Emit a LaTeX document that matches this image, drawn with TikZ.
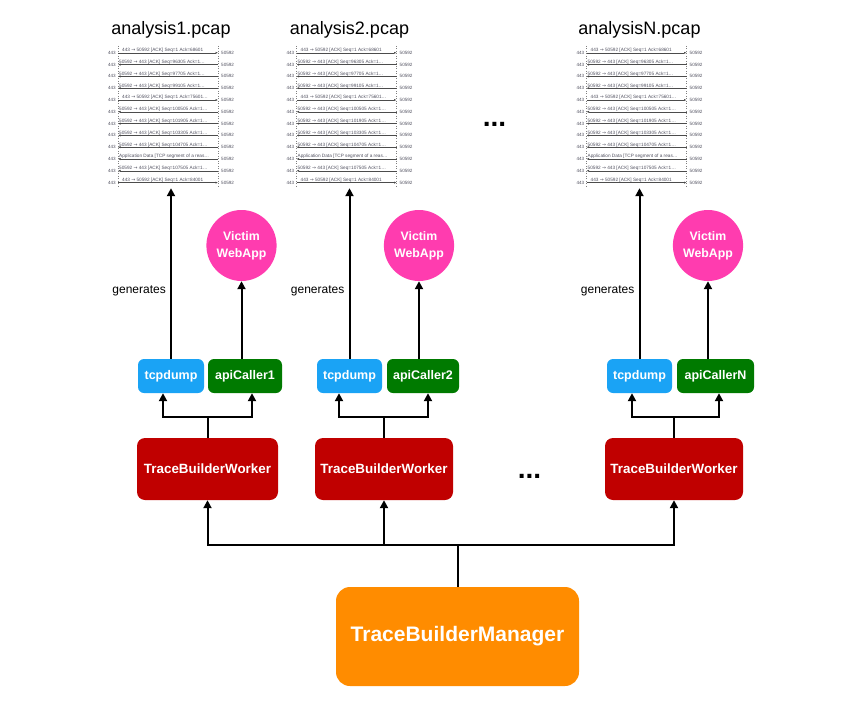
\documentclass[tikz,border=0pt]{standalone}
\usepackage{fontspec}
\setmainfont{Liberation Sans}
\newfontfamily\djv{DejaVu Sans}
\usetikzlibrary{arrows.meta,shapes.geometric}
\definecolor{tcpblue}{RGB}{26,163,245}
\definecolor{apigreen}{RGB}{0,122,0}
\definecolor{workred}{RGB}{192,0,0}
\definecolor{mgrorange}{RGB}{255,140,0}
\definecolor{vicpink}{RGB}{255,60,175}
\definecolor{pcapgray}{RGB}{80,80,95}
\newcommand\pcapar{{\djv →}}
\begin{document}
\begin{tikzpicture}[x=1pt,y=-1pt,
  conn/.style={line width=2pt},
  arr/.style={line width=2pt,-{Triangle[width=8pt,length=8pt]}},
  boxbase/.style={rounded corners=6pt,text=white,inner sep=0pt,
    font=\bfseries\fontsize{12.5}{14}\selectfont,minimum height=34},
  tcpbox/.style={boxbase,fill=tcpblue},
  apibox/.style={boxbase,fill=apigreen},
  workbox/.style={boxbase,fill=workred,rounded corners=8pt,minimum height=62,
    font=\bfseries\fontsize{13.4}{15}\selectfont},
  mgrbox/.style={boxbase,fill=mgrorange,rounded corners=14pt,minimum width=243,
    minimum height=99,font=\bfseries\fontsize{21}{24}\selectfont},
  victim/.style={ellipse,fill=vicpink,text=white,inner sep=0pt,minimum width=67,
    minimum height=71,align=center,font=\bfseries\fontsize{12.3}{17}\selectfont},
  titletext/.style={inner sep=0pt,font=\fontsize{18}{20}\selectfont},
  gentext/.style={inner sep=0pt,anchor=east,font=\fontsize{12}{14}\selectfont},
  rowtext/.style={inner sep=0pt,anchor=base west,text=pcapgray,font=\fontsize{4.7}{5}\selectfont},
  hosttext/.style={inner sep=0pt,text=pcapgray,font=\fontsize{4.6}{5}\selectfont},
  rowline/.style={line width=0.55pt,draw=black!70,-{Latex[length=2.5pt,width=2.2pt]}},
  lifeline/.style={line width=0.5pt,draw=gray,dotted},
  dots/.style={inner sep=0pt,anchor=base,font=\bfseries\fontsize{28}{28}\selectfont}
]
\useasboundingbox (0,0) rectangle (847,707);

\foreach \i/\pc/\tc/\tw/\ac/\aw/\ec/\wc/\ww/\lo/\hi/\an in {
  1/168/171/66/245/74/241.5/207.5/141/163/252/1,
  2/346.5/349.5/65/423/72/419/384/138/339/428/2,
  3/636.5/639.5/65/715.5/77/708/674/138/632/719/N}{
  % title
  \node[titletext] (title\i) at (\tc,29.5) {analysis\an.pcap};
  % pcap flow graph
  \node[inner sep=0pt,minimum width=100,minimum height=142] (p\i) at (\pc,117) {};
  \draw[lifeline] (p\i.north west) -- (p\i.south west);
  \draw[lifeline] (p\i.north east) -- (p\i.south east);
  \foreach \r/\s/\o/\txt in {
    1/-50/4/{443 \pcapar{} 50592 [ACK] Seq=1 Ack=68601},
    2/50/1/{50592 \pcapar{} 443 [ACK] Seq=96305 Ack=1…},
    3/50/1/{50592 \pcapar{} 443 [ACK] Seq=97705 Ack=1…},
    4/50/1/{50592 \pcapar{} 443 [ACK] Seq=99105 Ack=1…},
    5/-50/4/{443 \pcapar{} 50592 [ACK] Seq=1 Ack=75601…},
    6/50/1/{50592 \pcapar{} 443 [ACK] Seq=100505 Ack=1…},
    7/50/1/{50592 \pcapar{} 443 [ACK] Seq=101905 Ack=1…},
    8/50/1/{50592 \pcapar{} 443 [ACK] Seq=103305 Ack=1…},
    9/50/1/{50592 \pcapar{} 443 [ACK] Seq=104705 Ack=1…},
    10/50/1/{Application Data [TCP segment of a reas…},
    11/50/1/{50592 \pcapar{} 443 [ACK] Seq=107505 Ack=1…},
    12/-50/4/{443 \pcapar{} 50592 [ACK] Seq=1 Ack=84001}}{
    \pgfmathsetmacro\yy{51+(\r-1)*11.8}
    \node[hosttext,anchor=east] (p\i-l\r) at (\pc-52,\yy+1.8) {443};
    \node[hosttext,anchor=west] (p\i-r\r) at (\pc+53,\yy+1.8) {50592};
    \coordinate (p\i-s\r) at (\pc+\s,\yy+1.8);
    \coordinate (p\i-e\r) at (\pc-\s,\yy+1.8);
    \draw[rowline] (p\i-s\r) -- (p\i-e\r);
    \node[rowtext] (p\i-t\r) at (\pc-50+\o,\yy+0.6) {\txt};
  }
  % boxes
  \node[tcpbox,minimum width=\tw] (t\i) at (\tc,376) {tcpdump};
  \node[apibox,minimum width=\aw] (a\i) at (\ac,376) {apiCaller\an};
  \node[victim] (v\i) at (\ec,245.5) {Victim\\WebApp};
  \node[workbox,minimum width=\ww] (w\i) at (\wc,469) {TraceBuilderWorker};
  \node[gentext] (g\i) at (\tc-5,291) {generates};
  % connectors
  \draw[arr] (t\i.north) -- (t\i.north |- p\i.south);
  \draw[arr] (v\i.south |- a\i.north) -- (v\i.south);
  \coordinate (j\i) at (\wc,417);
  \coordinate (lo\i) at (\lo,417);
  \coordinate (hi\i) at (\hi,417);
  \draw[conn] (w\i.north) -- (j\i);
  \draw[arr] (j\i) -| (t\i.south -| lo\i);
  \draw[arr] (j\i) -| (a\i.south -| hi\i);
}

\node[dots] (dotsA) at (494.5,126.5) {...};
\node[dots] (dotsB) at (529.5,478.5) {...};

\node[mgrbox] (m) at (457.5,636.5) {TraceBuilderManager};
\coordinate (bus) at (457.5,545);
\draw[arr] (m.north) |- (w1.south |- bus) -- (w1.south);
\draw[arr] (m.north) |- (w3.south |- bus) -- (w3.south);
\draw[arr] (w2.south |- bus) -- (w2.south);
\end{tikzpicture}
\end{document}
